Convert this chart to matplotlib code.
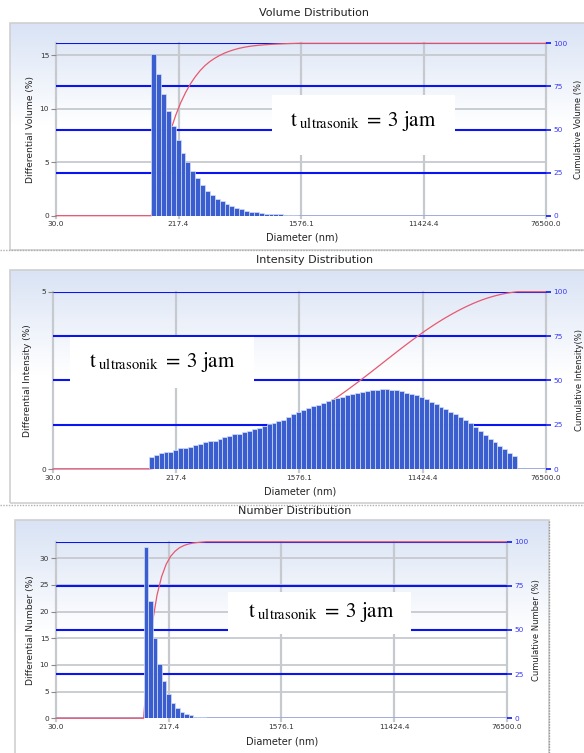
import numpy as np
import matplotlib
matplotlib.use("Agg")
import matplotlib.pyplot as plt
from matplotlib.patches import Rectangle
from matplotlib.lines import Line2D

W, H = 584, 753
plt.rcParams['font.family'] = ['DejaVu Sans']
plt.rcParams['mathtext.fontset'] = 'stix'

# ---------------- data ----------------
x_tick_values = [30.0, 217.4, 1576.1, 11424.4, 82700.0]
x_tick_labels = ['30.0', '217.4', '1576.1', '11424.4', '76500.0']
bin_first_edge_nm = 140.0      # lower edge of the first size class
bin_width_decades = 0.0343     # width of one size class (log10 units)

volume_pct = [15.1, 13.2, 11.4, 9.8, 8.4, 7.1, 5.9, 5.05, 4.15, 3.55,
              2.9, 2.35, 1.9, 1.6, 1.35, 1.1, 0.9, 0.75, 0.6, 0.48,
              0.38, 0.3, 0.24, 0.2, 0.16, 0.14, 0.12, 0.1, 0.09, 0.08]

intensity_pct = [0.33, 0.385, 0.44, 0.47, 0.49, 0.545, 0.58, 0.60, 0.63, 0.68,
                 0.705, 0.75, 0.78, 0.80, 0.846, 0.89, 0.93, 0.99, 1.00, 1.03,
                 1.07, 1.12, 1.165, 1.21, 1.27, 1.31, 1.35, 1.38, 1.46, 1.54,
                 1.60, 1.66, 1.72, 1.78, 1.81, 1.85, 1.91, 1.96, 2.00, 2.04,
                 2.08, 2.11, 2.15, 2.18, 2.20, 2.22, 2.24, 2.25, 2.25, 2.24,
                 2.22, 2.19, 2.15, 2.12, 2.09, 2.02, 1.96, 1.90, 1.83, 1.76,
                 1.68, 1.61, 1.54, 1.46, 1.38, 1.29, 1.19, 1.08, 0.97, 0.86,
                 0.76, 0.66, 0.55, 0.45, 0.37]

number_pct = [32.1, 22.0, 15.1, 10.1, 6.9, 4.5, 2.9, 2.0, 1.25, 0.8,
              0.55, 0.3, 0.25, 0.2]

titles = ['Volume Distribution', 'Intensity Distribution', 'Number Distribution']
left_labels = ['Differential Volume (%)', 'Differential Intensity (%)',
               'Differential Number (%)']
right_labels = ['Cumulative Volume (%)', 'Cumulative Intensity(%)',
                'Cumulative Number (%)']
left_ticks = [[0, 5, 10, 15], [0, 5], [0, 5, 10, 15, 20, 25, 30]]
left_tops = [16.1, 5.0, 33.1]
right_ticks = [0, 25, 50, 75, 100]
x_label = 'Diameter (nm)'
annotation = r'$\mathrm{t}_{\ \mathrm{ultrasonik}}\;=\;3\ \mathrm{jam}$'

# ---------------- layout (pixels) ----------------
panels = [
    dict(box=(10, 22.5, 600, 250), ax=(56, 546, 43.3, 215.7), title=(314, 13),
         xlab=(302, 238), ylab=31, rlab=578, note_box=(272, 95, 455, 155),
         note=(290, 126)),
    dict(box=(10, 270, 600, 503), ax=(53, 545.6, 291.7, 469), title=(315, 260),
         xlab=(300, 491), ylab=28, rlab=579, note_box=(70, 337, 254, 388),
         note=(89, 367)),
    dict(box=(15, 520, 549, 770), ax=(56, 506.5, 541.7, 718.3), title=(295, 511),
         xlab=(282, 741), ylab=31, rlab=537, note_box=(228, 592, 411, 634),
         note=(248, 617)),
]
values = [volume_pct, intensity_pct, number_pct]

fig = plt.figure(figsize=(W / 100, H / 100), dpi=100)
fig.patch.set_facecolor('white')


def frac_rect(x0, y0, x1, y1):
    return [x0 / W, 1 - y1 / H, (x1 - x0) / W, (y1 - y0) / H]


BAR_FACE = '#3a5ecf'
BAR_EDGE = '#d5def5'
BLUE = '#0a14f0'
GRID = '#c6c9ce'
RED = '#e8586f'

for i, (p, vals) in enumerate(zip(panels, values)):
    # panel background with gradient
    bx0, by0, bx1, by1 = p['box']
    bg = fig.add_axes(frac_rect(bx0, by0, bx1, by1), zorder=-5)
    n = 200
    t = np.linspace(0, 1, n)
    s = np.clip(t / 0.45, 0, 1)[:, None]
    top = np.array([0.85, 0.89, 0.96])
    grad = top * (1 - s) + np.array([1.0, 1.0, 1.0]) * s
    grad = np.repeat(grad[:, None, :], 2, axis=1)
    bg.imshow(grad, aspect='auto', extent=[0, 1, 0, 1], origin='upper')
    bg.add_patch(Rectangle((0, 0), 1, 1, transform=bg.transAxes, fill=False,
                           edgecolor='#cfcfcf', lw=1.2, clip_on=False))
    bg.set_axis_off()

    ax0, ax1, ay0, ay1 = p['ax']
    ax = fig.add_axes(frac_rect(ax0, ay0, ax1, ay1), zorder=1)
    ax.patch.set_alpha(0)
    ytop = left_tops[i]
    ax.set_xscale('log')
    ax.set_xlim(x_tick_values[0], x_tick_values[-1])
    ax.set_ylim(0, ytop)
    for sp in ax.spines.values():
        sp.set_visible(False)

    # grid
    for xv in x_tick_values:
        ax.axvline(xv, ymin=-0.015, ymax=1.0, color=GRID, lw=1.6, zorder=0.5,
                   clip_on=False)
    for yv in left_ticks[i]:
        ax.axhline(yv, color=GRID, lw=1.3, zorder=0.6)
    for rv in right_ticks:
        yv = rv * ytop / 100.0
        if rv == 0:
            ax.axhline(yv, color='#9aa8e2', lw=1.2, zorder=0.8)
        else:
            ax.axhline(yv, xmin=0, xmax=1.0, color=BLUE, lw=1.5, zorder=0.8)

    # bars
    nb = len(vals)
    k = np.arange(nb + 1)
    edges = bin_first_edge_nm * 10 ** (bin_width_decades * k)
    ax.bar(edges[:-1], vals, width=np.diff(edges), align='edge',
           color=BAR_FACE, edgecolor=BAR_EDGE, linewidth=0.5, zorder=2)

    # cumulative curve (from the bars)
    cum = np.cumsum(vals)
    cum = cum / cum[-1] * 100.0
    cx = np.concatenate([[x_tick_values[0], edges[0]], edges[1:], [x_tick_values[-1]]])
    cy = np.concatenate([[0, 0], cum, [100]])
    ax.plot(cx, cy * ytop / 100.0, color=RED, lw=0.9, zorder=1.5, clip_on=False)

    # ticks
    ax.set_xticks(x_tick_values)
    ax.set_xticklabels(x_tick_labels)
    ax.xaxis.set_minor_locator(matplotlib.ticker.NullLocator())
    ax.tick_params(axis='x', length=0, pad=4, labelsize=5.3, labelcolor='#333333')
    ax.set_yticks(left_ticks[i])
    ax.set_yticklabels([str(v) for v in left_ticks[i]])
    ax.tick_params(axis='y', length=3.5, width=0.8, color='#8a8a8a', pad=1.5,
                   labelsize=5.3, labelcolor='#333333')

    ax2 = ax.twinx()
    ax2.set_ylim(0, 100)
    ax2.patch.set_alpha(0)
    for sp in ax2.spines.values():
        sp.set_visible(False)
    ax2.set_yticks(right_ticks)
    ax2.set_yticklabels([str(v) for v in right_ticks])
    ax2.tick_params(axis='y', length=3.5, width=1.2, color=BLUE, pad=2,
                    labelsize=5.3, labelcolor='#3a3af5')

    # texts
    tx, ty = p['title']
    fig.text(tx / W, 1 - ty / H, titles[i], ha='center', va='center',
             fontsize=8, color='#222222')
    lx, ly = p['xlab']
    fig.text(lx / W, 1 - ly / H, x_label, ha='center', va='center',
             fontsize=7, color='#222222')
    fig.text(p['ylab'] / W, 1 - (ay0 + ay1) / 2 / H, left_labels[i],
             rotation=90, ha='center', va='center', fontsize=6.6, color='#222222')
    fig.text(p['rlab'] / W, 1 - (ay0 + ay1) / 2 / H, right_labels[i],
             rotation=90, ha='center', va='center', fontsize=6.0, color='#222222')

    # annotation box
    nx0, ny0, nx1, ny1 = p['note_box']
    fig.patches.append(Rectangle((nx0 / W, 1 - ny1 / H), (nx1 - nx0) / W,
                                 (ny1 - ny0) / H, transform=fig.transFigure,
                                 facecolor='white', edgecolor='none', zorder=10))
    ntx, nty = p['note']
    fig.text(ntx / W, 1 - nty / H, annotation, ha='left', va='baseline',
             fontsize=15, color='black', zorder=11)

# separators
for yy in (250, 505):
    fig.add_artist(Line2D([0, 1], [1 - yy / H] * 2, transform=fig.transFigure,
                          color='#b0b0b0', lw=1.0, ls=(0, (1, 1)), zorder=20))
fig.add_artist(Line2D([549 / W] * 2, [0, 1 - 520 / H], transform=fig.transFigure,
                      color='#9a9a9a', lw=1.0, ls=(0, (1, 1)), zorder=20))

fig.savefig('out.png', dpi=100, facecolor='white')
